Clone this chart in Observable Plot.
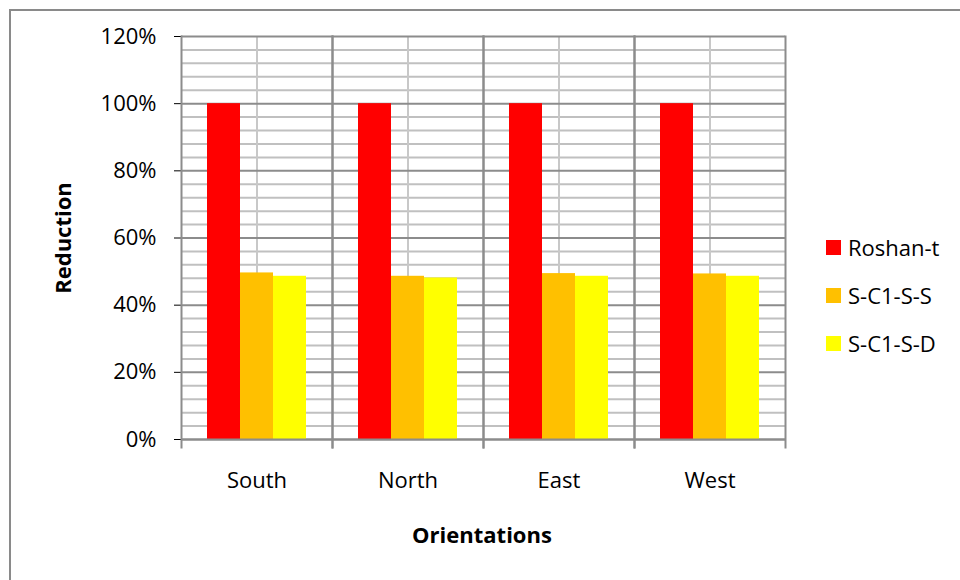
<!DOCTYPE html>
<html>
<head>
<meta charset="utf-8">
<script src="https://cdn.jsdelivr.net/npm/d3@7"></script>
<script src="https://cdn.jsdelivr.net/npm/@observablehq/plot@0.6"></script>
<style>
  body { margin: 0; background: #fff; overflow: hidden; font-family: "Open Sans", sans-serif; }
  #wrap { position: relative; width: 960px; height: 580px; overflow: hidden; background: #fff; }
  #border { position: absolute; left: 9px; top: 9px; width: 1200px; height: 1200px;
            border-left: 2px solid #8a8a8a; border-top: 2px solid #8a8a8a; }
  #chart { position: absolute; left: 0; top: 0; }
  .title { position: absolute; font-weight: bold; font-size: 22px; color: #000; white-space: nowrap; }
  #ytitle { left: 62px; top: 238px; transform: translate(-50%, -50%) rotate(-90deg); }
  #xtitle { left: 482px; top: 534px; transform: translate(-50%, -50%); }
  #legend { position: absolute; left: 826px; top: 0; }
  .item { position: absolute; left: 0; display: flex; align-items: center; white-space: nowrap;
          font-size: 22px; color: #000; transform: translateY(-50%); }
  .sw { width: 15px; height: 15px; margin-right: 7px; flex: none; }
</style>
</head>
<body>
<div id="wrap">
  <div id="border"></div>
  <div id="chart"></div>
  <div class="title" id="ytitle">Reduction</div>
  <div class="title" id="xtitle">Orientations</div>
  <div id="legend"></div>
</div>
<script>
const orientations = ["South", "North", "East", "West"];
const seriesNames = ["Roshan-t", "S-C1-S-S", "S-C1-S-D"];
const roshanT = [1.00, 1.00, 1.00, 1.00];
const sc1ss   = [0.496, 0.486, 0.494, 0.493];
const sc1sd   = [0.486, 0.481, 0.486, 0.486];
const colors  = ["#FF0000", "#FFC000", "#FFFF00"];
const yTicks  = [0, 0.2, 0.4, 0.6, 0.8, 1.0, 1.2];
const minorTicks = [0.04, 0.08, 0.12, 0.16, 0.24, 0.28, 0.32, 0.36, 0.44, 0.48, 0.52, 0.56,
                    0.64, 0.68, 0.72, 0.76, 0.84, 0.88, 0.92, 0.96, 1.04, 1.08, 1.12, 1.16];

const seriesValues = [roshanT, sc1ss, sc1sd];
const table = [];
orientations.forEach((o, i) => {
  seriesNames.forEach((s, j) => {
    table.push({orientation: o, series: s, value: seriesValues[j][i]});
  });
});

const chart = Plot.plot({
  width: 960,
  height: 580,
  marginLeft: 180,
  marginRight: 175,
  marginTop: 36,
  marginBottom: 141,
  style: {fontFamily: "'Open Sans', sans-serif", fontSize: "22px", color: "#000", background: "transparent"},
  facet: {data: table, x: "orientation"},
  fx: {domain: orientations, padding: 0, label: null, tickSize: 0, tickPadding: 33},
  x: {domain: seriesNames, axis: null, paddingInner: 0, paddingOuter: 0.75},
  y: {domain: [0, 1.2], ticks: yTicks, tickFormat: d3.format(".0%"), tickSize: 7, tickPadding: 18, label: null},
  color: {domain: seriesNames, range: colors},
  marks: [
    Plot.ruleY(minorTicks, {stroke: "#c0c0c0", strokeWidth: 2}),
    Plot.ruleX([seriesNames[1]], {stroke: "#c8c8c8", strokeWidth: 2}),
    Plot.ruleY(yTicks, {stroke: "#8c8c8c", strokeWidth: 2}),
    Plot.frame({anchor: "left", insetBottom: -8, stroke: "#8c8c8c", strokeWidth: 2}),
    Plot.frame({anchor: "right", insetBottom: -8, stroke: "#8c8c8c", strokeWidth: 2}),
    Plot.barY(table, {x: "series", y: "value", fill: "series"}),
    Plot.ruleY([0], {stroke: "#8c8c8c", strokeWidth: 2})
  ]
});
document.getElementById("chart").appendChild(chart);

const legend = document.getElementById("legend");
const legendY = [247, 295, 343];
seriesNames.forEach((s, i) => {
  const item = document.createElement("div");
  item.className = "item";
  item.style.top = legendY[i] + "px";
  const sw = document.createElement("span");
  sw.className = "sw";
  sw.style.background = colors[i];
  item.appendChild(sw);
  item.appendChild(document.createTextNode(s));
  legend.appendChild(item);
});
</script>
</body>
</html>
